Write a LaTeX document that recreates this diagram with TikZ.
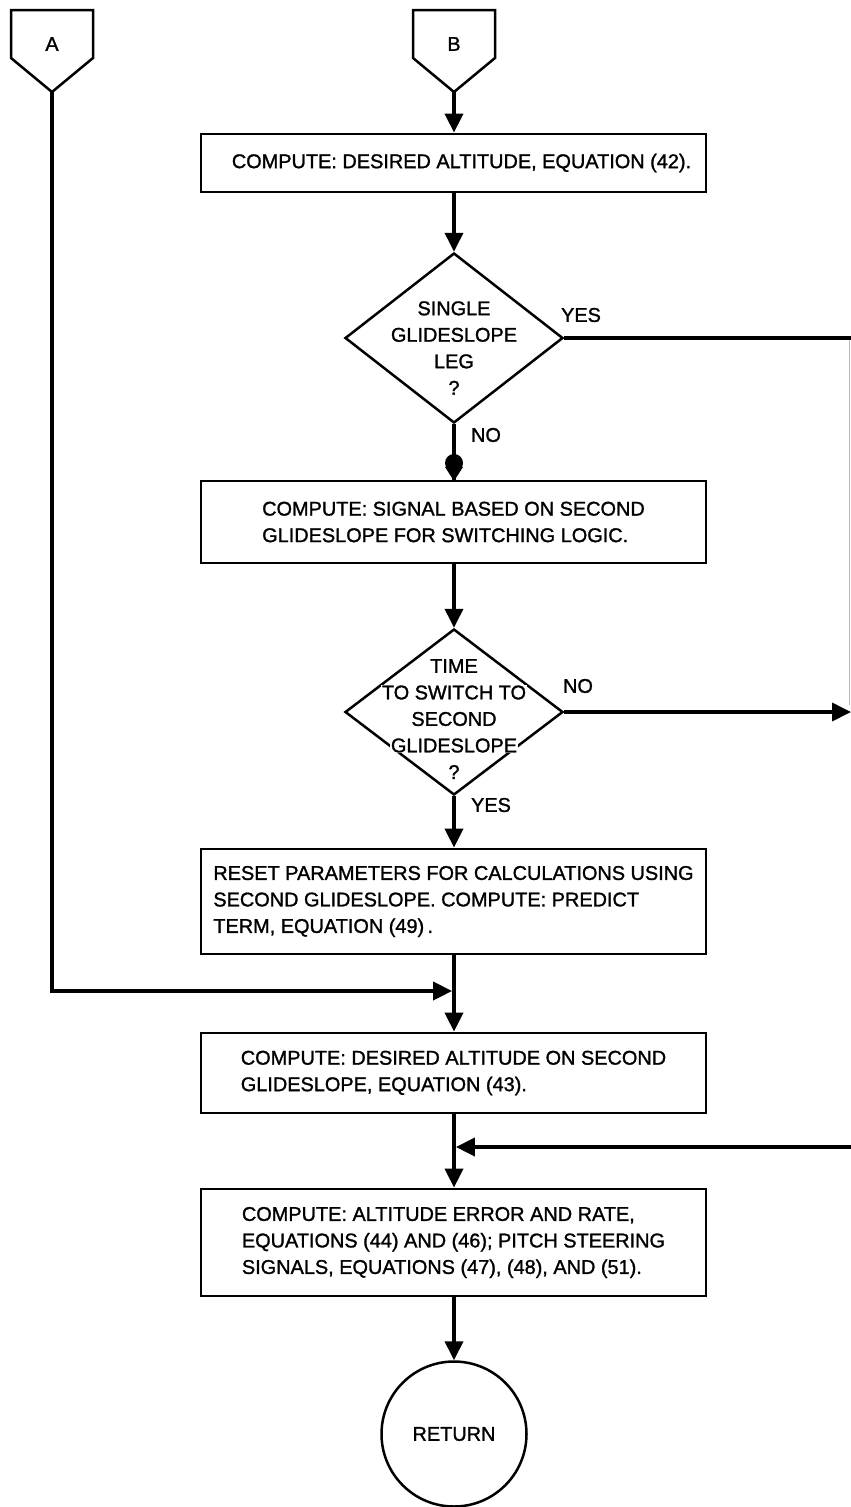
\documentclass[tikz,border=0pt]{standalone}
\usepackage{fontspec}
\setmainfont[FakeBold=1.3]{Liberation Sans}
\usetikzlibrary{arrows.meta,shapes.geometric}
\begin{document}
\begin{tikzpicture}[x=1pt,y=-1pt,
  every node/.style={font=\fontsize{19.9}{26.5}\selectfont, inner sep=0pt},
  procbox/.style={draw, rectangle, line width=2.8pt, minimum width=505pt, align=left},
  decision/.style={draw, diamond, line width=2.5pt, minimum width=218pt},
  dline/.style={fill=white, inner xsep=1pt, inner ysep=0.5pt},
  offpage/.style={line width=2.5pt, line join=miter},
  flow/.style={line width=3.8pt},
  tip/.style={-{Triangle[length=19pt,width=18pt]}},
]
\useasboundingbox (0,0) rectangle (851,1507);
\fill[white] (0,0) rectangle (851,1507);

% off-page connectors A and B
\draw[offpage] (11,10) -- (93,10) -- (93,58) -- (52,92) -- (11,58) -- cycle;
\node (A) at (52,44) {A};
\coordinate (Atip) at (52,92);
\draw[offpage] (413,10) -- (495,10) -- (495,58) -- (454,92) -- (413,58) -- cycle;
\node (B) at (454,44) {B};
\coordinate (Btip) at (454,92);

% process boxes and decisions
\node[procbox, minimum height=58pt] (c1) at (453.5,163)
  {\hspace*{16pt}COMPUTE: DESIRED ALTITUDE, EQUATION (42).};

\node[decision, minimum height=170pt] (d1) at (454,338) {};
\node[align=center] (d1t) at (454,348) {SINGLE\\GLIDESLOPE\\LEG\\?};

\node[circle, fill, minimum size=18pt] (dot) at (454,463) {};

\node[procbox, minimum height=82pt] (c2) at (453.5,522)
  {COMPUTE: SIGNAL BASED ON SECOND\\GLIDESLOPE FOR SWITCHING LOGIC.};

\node[decision, minimum height=166pt] (d2) at (454,712) {};
\node[dline] (d2a) at (454,666) {TIME};
\node[dline] (d2b) at (454,692.5) {TO SWITCH TO};
\node[dline] (d2c) at (454,719) {SECOND};
\node[dline] (d2d) at (454,745.5) {GLIDESLOPE};
\node[dline] (d2e) at (454,772) {?};

\node[procbox, minimum height=105pt] (c3) at (453.5,901.5)
  {RESET PARAMETERS FOR CALCULATIONS USING\\SECOND GLIDESLOPE. COMPUTE: PREDICT\\TERM, EQUATION (49)\,.\hspace*{10pt}};
\coordinate (join1) at (454,991);

\node[procbox, minimum height=80pt] (c4) at (453.5,1073)
  {COMPUTE: DESIRED ALTITUDE ON SECOND\\GLIDESLOPE, EQUATION (43).\hspace*{10pt}};
\coordinate (join2) at (454,1147);

\node[procbox, minimum height=107pt] (c5) at (453.5,1242.5)
  {COMPUTE: ALTITUDE ERROR AND RATE,\\EQUATIONS (44) AND (46); PITCH STEERING\\SIGNALS, EQUATIONS (47), (48), AND (51).};

\node[circle, draw, line width=2.5pt, minimum size=145pt] (ret) at (454,1434) {RETURN};

% branch labels
\node (yes1) at (581,315) {YES};
\node (no1) at (486,435) {NO};
\node (no2) at (578,686) {NO};
\node (yes2) at (491,805) {YES};

% connectors
\coordinate (rout1) at (851,338);
\coordinate (rout2) at (851,712);
\coordinate (rin) at (851,1147);

\draw[flow,tip] (Btip) -- (Btip |- c1.north);
\draw[flow,tip] (Btip |- c1.south) -- (d1.north);
\draw[flow] (d1.south) -- (d1.south |- c2.north);
\fill (445,467) -- (463,467) -- (454,481) -- cycle;
\draw[flow] (d1.east) -- (rout1);
\draw[gray!55, line width=1pt] (849.5,340) -- (849.5,705);

\draw[flow,tip] (d2.north |- c2.south) -- (d2.north);
\draw[flow,tip] (d2.east) -- (rout2);
\draw[flow,tip] (d2.south) -- (d2.south |- c3.north);

\draw[flow] (join1 |- c3.south) -- (join1);
\draw[flow,tip] (Atip) |- ([xshift=-1.9pt]join1);
\draw[flow,tip] (join1) -- (join1 |- c4.north);

\draw[flow] (join2 |- c4.south) -- (join2);
\draw[flow,tip] (rin) -- ([xshift=1.9pt]join2);
\draw[flow,tip] (join2) -- (join2 |- c5.north);

\draw[flow,tip] (ret.north |- c5.south) -- (ret.north);
\end{tikzpicture}
\end{document}
